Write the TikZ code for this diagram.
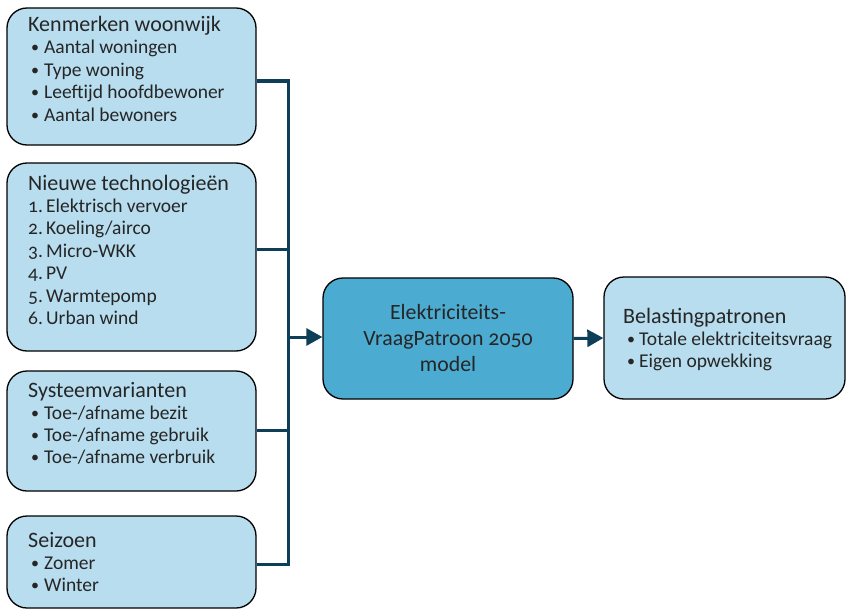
\documentclass[tikz,border=0pt]{standalone}
\usepackage{fontspec}
\setmainfont{Carlito}[Numbers=OldStyle]
\usetikzlibrary{arrows.meta,calc}
\definecolor{lightbox}{HTML}{B7DDEF}
\definecolor{midbox}{HTML}{4BABD1}
\definecolor{linec}{HTML}{0E3F58}
\definecolor{txtc}{HTML}{262626}
\tikzset{
  box/.style={draw=black, line width=1.3pt, rounded corners=20pt, inner sep=0pt},
  inbox/.style={box, fill=lightbox},
  midboxst/.style={box, fill=midbox},
  conn/.style={draw=linec, line width=3pt},
  arr/.style={conn, -{Triangle[length=16pt,width=17pt]}},
  ttl/.style={font=\fontsize{22}{22.5}\selectfont, text=txtc, anchor=base west, inner sep=0pt},
  itm/.style={font=\fontsize{19.5}{22.5}\selectfont, text=txtc, anchor=base west, inner sep=0pt},
  bul/.style={font=\fontsize{16}{22.5}\selectfont, text=txtc, anchor=base west, inner sep=0pt},
  ctr/.style={font=\fontsize{21.8}{26}\selectfont, text=txtc, anchor=base, inner sep=0pt},
}
\begin{document}
\begin{tikzpicture}[x=1pt,y=-1pt]
\useasboundingbox (0,0) rectangle (846,610);
% boxes
\node[inbox, minimum width=249pt, minimum height=137pt] (b1) at (131.5,76.5) {};
\node[inbox, minimum width=249pt, minimum height=188pt] (b2) at (131.5,257) {};
\node[inbox, minimum width=249pt, minimum height=120pt] (b3) at (131.5,431) {};
\node[inbox, minimum width=249pt, minimum height=92pt] (b4) at (131.5,562) {};
\node[midboxst, minimum width=250pt, minimum height=121pt] (c) at (448,338.5) {};
\node[inbox, minimum width=241pt, minimum height=122pt] (r) at (724.5,338) {};
% box 1
\node[ttl] (t1) at (28,31.5) {Kenmerken woonwijk};
\foreach \t [count=\i] in {Aantal woningen, Type woning, Leeftijd hoofdbewoner, Aantal bewoners}{
  \node[bul] (b1b\i) at (31,30.5+22.4*\i) {•};
  \node[itm] (b1i\i) at (44,31.5+22.4*\i) {\t};
}
% box 2
\node[ttl] (t2) at (28,190) {Nieuwe technologieën};
\foreach \t [count=\i] in {Elektrisch vervoer, Koeling/airco, Micro-WKK, PV, Warmtepomp, Urban wind}{
  \node[itm] (b2n\i) at (28,190+22.4*\i) {\i.};
  \node[itm] (b2i\i) at (46,190+22.4*\i) {\t};
}
% box 3
\node[ttl] (t3) at (28,397) {Systeemvarianten};
\foreach \t [count=\i] in {Toe-/afname bezit, Toe-/afname gebruik, Toe-/afname verbruik}{
  \node[bul] (b3b\i) at (31,396+22.3*\i) {•};
  \node[itm] (b3i\i) at (44,397+22.3*\i) {\t};
}
% box 4
\node[ttl] (t4) at (28,547) {Seizoen};
\foreach \t [count=\i] in {Zomer, Winter}{
  \node[bul] (b4b\i) at (31,546+22.2*\i) {•};
  \node[itm] (b4i\i) at (44,547+22.2*\i) {\t};
}
% centre
\node[ctr] (c1) at (448,319) {Elektriciteits-};
\node[ctr] (c2) at (448,345) {VraagPatroon 2050};
\node[ctr] (c3) at (448,371) {model};
% right
\node[ttl] (t5) at (623,323) {Belastingpatronen};
\foreach \t [count=\i] in {Totale elektriciteitsvraag, Eigen opwekking}{
  \node[bul] (rb\i) at (627,322+22.2*\i) {•};
  \node[itm] (ri\i) at (639,323+22.2*\i) {\t};
}
% connectors
\coordinate (bus1) at (288,81);
\coordinate (bus2) at (288,249);
\coordinate (bus3) at (288,430);
\coordinate (bus4) at (288,564);
\coordinate (busm) at (288,337);
\draw[conn] (b1.east |- bus1) -- (bus1);
\draw[conn] (b2.east |- bus2) -- (bus2);
\draw[conn] (b3.east |- bus3) -- (bus3);
\draw[conn] (b4.east |- bus4) -- (bus4);
\draw[conn, line cap=rect] (bus1) -- (bus4);
\draw[arr] (busm) -- (c.west |- busm);
\draw[arr] (c.east) -- (r.west);
\end{tikzpicture}
\end{document}
